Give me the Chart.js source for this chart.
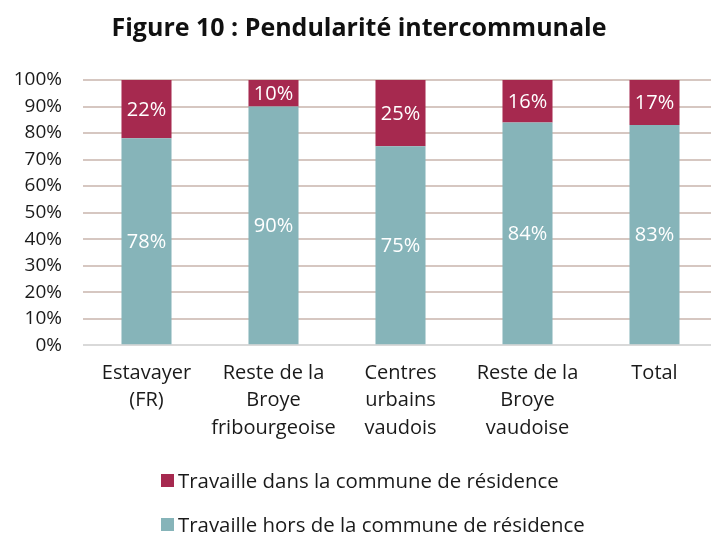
<!DOCTYPE html>
<html>
<head>
<meta charset="utf-8">
<script src="https://cdn.jsdelivr.net/npm/chart.js@4"></script>
<style>
  html, body { margin: 0; padding: 0; background: #fff; }
  #wrap { position: relative; width: 711px; height: 533px; overflow: hidden; }
  #c { position: absolute; left: 0; top: 0; }
  .leg { position: absolute; left: 161px; font-family: "Open Sans", sans-serif; font-size: 20.4px; color: #1a1a1a; display: flex; align-items: center; white-space: nowrap; }
  .sw { width: 13px; height: 13px; margin-right: 4px; }
</style>
</head>
<body>
<div id="wrap">
  <canvas id="c" width="720" height="533"></canvas>
  <div class="leg" id="leg1" style="top:466px;"><span class="sw" id="sw1"></span><span id="lt1"></span></div>
  <div class="leg" id="leg2" style="top:510px;"><span class="sw" id="sw2"></span><span id="lt2"></span></div>
</div>
<script>
const categories = [["Estavayer", "(FR)"], ["Reste de la", "Broye", "fribourgeoise"], ["Centres", "urbains", "vaudois"], ["Reste de la", "Broye", "vaudoise"], "Total"];
const horsCommune = [78, 90, 75, 84, 83];
const dansCommune = [22, 10, 25, 16, 17];
const seriesNames = ["Travaille dans la commune de résidence", "Travaille hors de la commune de résidence"];
const yTicks = [0, 10, 20, 30, 40, 50, 60, 70, 80, 90, 100];
const colorDans = "#a6294f";
const colorHors = "#86b4b9";
const titleText = "Figure 10 : Pendularité intercommunale";

document.getElementById('sw1').style.background = colorDans;
document.getElementById('sw2').style.background = colorHors;
document.getElementById('lt1').textContent = seriesNames[0];
document.getElementById('lt2').textContent = seriesNames[1];

const FONT = '"Open Sans", sans-serif';

const valueLabels = {
  id: 'valueLabels',
  afterDatasetsDraw(chart) {
    const ctx = chart.ctx;
    ctx.save();
    ctx.fillStyle = '#ffffff';
    ctx.font = '20px ' + FONT;
    ctx.textAlign = 'center';
    ctx.textBaseline = 'middle';
    chart.data.datasets.forEach((ds, di) => {
      const meta = chart.getDatasetMeta(di);
      meta.data.forEach((el, i) => {
        const p = el.getProps(['x', 'y', 'base'], true);
        ctx.fillText(ds.data[i] + '%', p.x, (p.y + p.base) / 2 + 1);
      });
    });
    ctx.restore();
  }
};

new Chart(document.getElementById('c'), {
  type: 'bar',
  data: {
    labels: categories,
    datasets: [
      { label: seriesNames[1], data: horsCommune, backgroundColor: colorHors, barPercentage: 0.394, categoryPercentage: 1.0 },
      { label: seriesNames[0], data: dansCommune, backgroundColor: colorDans, barPercentage: 0.394, categoryPercentage: 1.0 }
    ]
  },
  options: {
    responsive: false,
    animation: false,
    layout: { padding: { left: 0, right: 2, top: 0, bottom: 77 } },
    plugins: {
      legend: { display: false },
      tooltip: { enabled: false },
      title: {
        display: true,
        text: titleText,
        color: '#111',
        font: { family: FONT, size: 25, weight: 'bold' },
        padding: { top: 14, bottom: 36 }
      }
    },
    scales: {
      x: {
        stacked: true,
        grid: { display: false, drawTicks: false },
        border: { display: false },
        ticks: {
          color: '#1a1a1a',
          font: { family: FONT, size: 20, lineHeight: 1.38 },
          padding: 14,
          maxRotation: 0,
          autoSkip: false
        }
      },
      y: {
        stacked: true,
        min: 0,
        max: 100,
        afterFit(scale) { scale.width = 83; },
        grid: {
          drawTicks: false,
          lineWidth: 2,
          color: (c) => (c.tick && c.tick.value === 0) ? '#d9d9d9' : '#d6c7c1'
        },
        border: { display: false },
        ticks: {
          stepSize: 10,
          autoSkip: false,
          color: '#1a1a1a',
          font: { family: FONT, size: 19 },
          padding: 21,
          callback: (v) => yTicks.includes(v) ? v + '%' : null
        }
      }
    }
  },
  plugins: [valueLabels]
});
</script>
</body>
</html>
